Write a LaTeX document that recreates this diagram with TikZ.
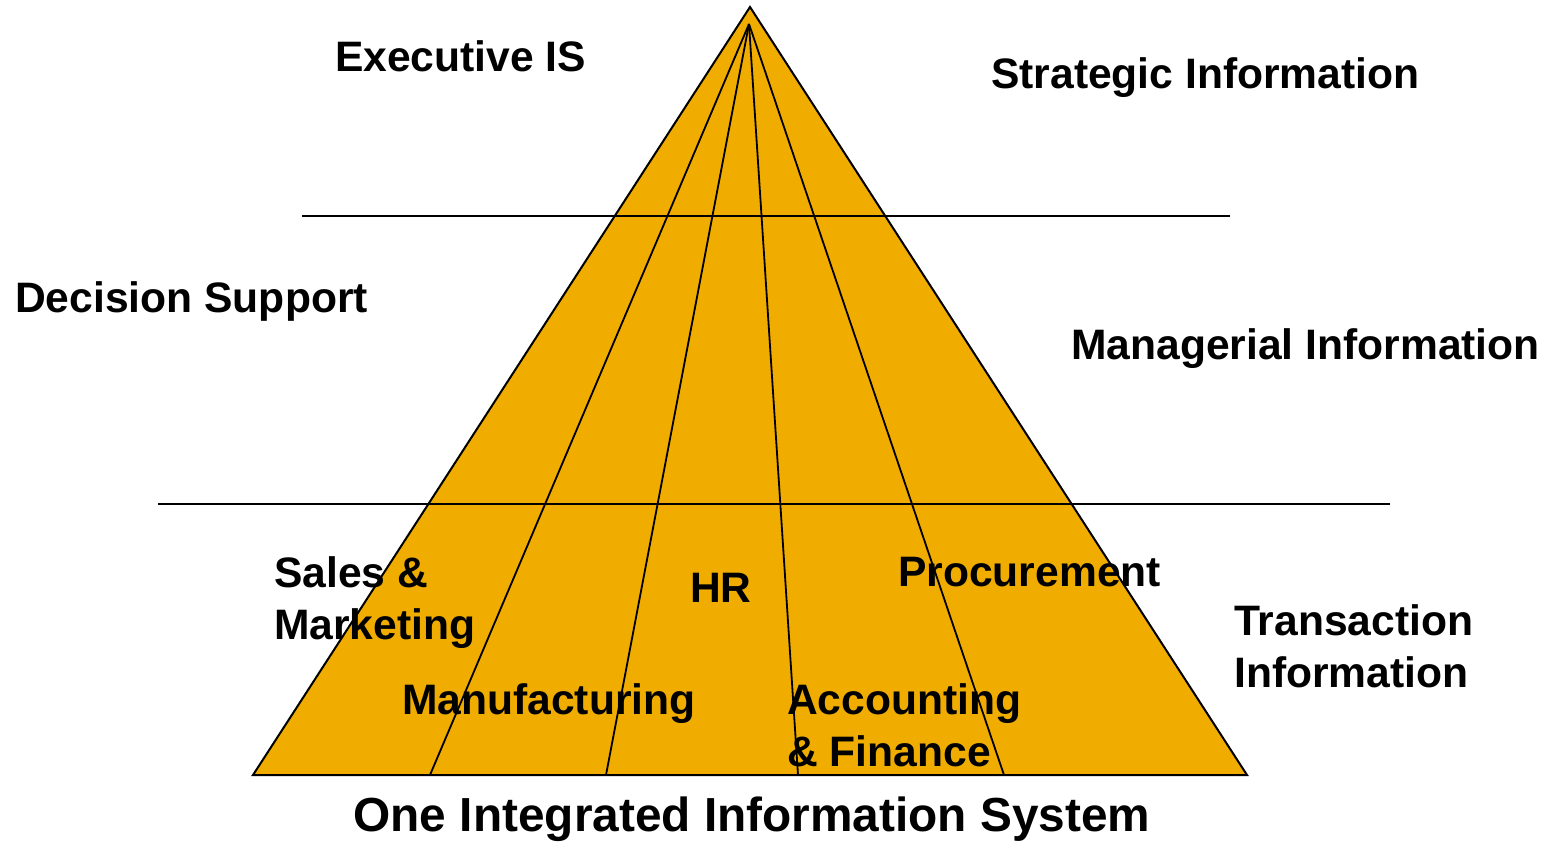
\documentclass[tikz,border=0pt]{standalone}
\usepackage{fontspec}
\setmainfont{Liberation Sans}
\definecolor{pyr}{RGB}{240,173,0}
\begin{document}
\begin{tikzpicture}[x=1pt,y=-1pt,
  lbl/.style={font=\bfseries\fontsize{42.6}{52}\selectfont,inner sep=0pt,anchor=base west,align=left},
  big/.style={font=\bfseries\fontsize{47.8}{56}\selectfont,inner sep=0pt,anchor=base},
  edge/.style={draw=black,line width=2pt},
  fan/.style={draw=black,line width=1.8pt}]
\useasboundingbox (0,0) rectangle (1550,841);
% geometry
\coordinate (top) at (750,7);
\coordinate (bl) at (253,775);
\coordinate (br) at (1247,775);
\coordinate (f) at (749,24);
\coordinate (b1) at (430,775);
\coordinate (b2) at (606,775);
\coordinate (b3) at (798,775);
\coordinate (b4) at (1004,775);
\coordinate (h1l) at (302,215.5);
\coordinate (h1r) at (1230,215.5);
\coordinate (h2l) at (158,504);
\coordinate (h2r) at (1390,504);
% pyramid
\fill[pyr] (top) -- (bl) -- (br) -- cycle;
\draw[fan] (f) -- (b1);
\draw[fan] (f) -- (b2);
\draw[fan] (f) -- (b3);
\draw[fan] (f) -- (b4);
\draw[edge,line join=miter] (top) -- (bl) -- (br) -- cycle;
\draw[edge] (h1l) -- (h1r);
\draw[edge] (h2l) -- (h2r);
% labels
\node[lbl] (exec) at (335,71) {Executive IS};
\node[lbl] (strat) at (991,88) {Strategic Information};
\node[lbl] (dss) at (15,312) {Decision Support};
\node[lbl] (mgr) at (1071,359) {Managerial Information};
\node[lbl] (sales) at (274,639) {Sales \&\\Marketing};
\node[lbl] (hr) at (690,602) {HR};
\node[lbl] (proc) at (898,586) {Procurement};
\node[lbl] (trans) at (1234,687) {Transaction\\Information};
\node[lbl] (manu) at (402,714) {Manufacturing};
\node[lbl] (acc) at (787,766) {Accounting\\\& Finance};
\node[big] (one) at (752,831) {One Integrated Information System};
\end{tikzpicture}
\end{document}
